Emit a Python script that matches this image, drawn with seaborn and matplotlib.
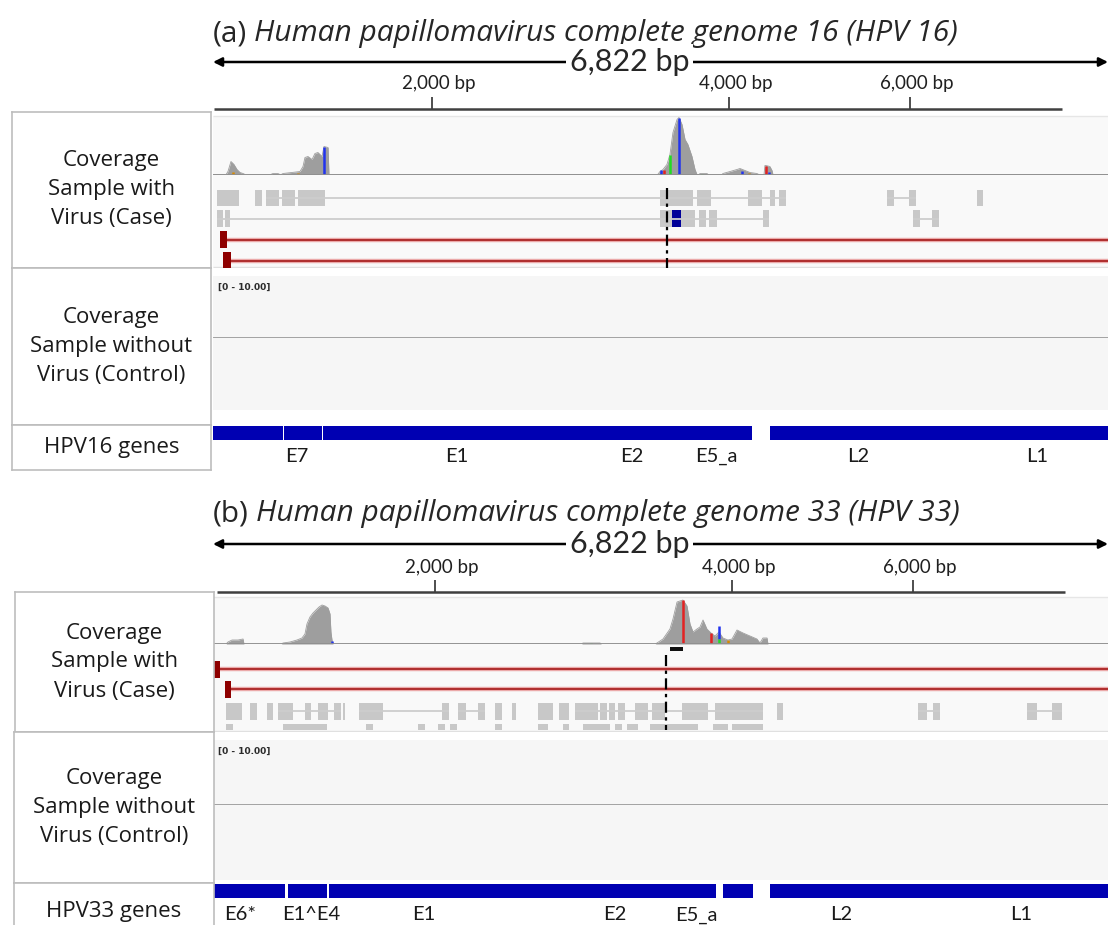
import numpy as np
import matplotlib
matplotlib.use("Agg")
import matplotlib.pyplot as plt
import seaborn as sns

sns.set_theme(style="white")
FONT = ['Lato', 'DejaVu Sans']
ALT = ['Open Sans', 'DejaVu Sans']
plt.rcParams['font.family'] = FONT

# ------------------------------------------------------------------ DATA
GENOME_LEN = 6822
length_label = "6,822 bp"
ruler_labels = ["2,000 bp", "4,000 bp", "6,000 bp"]
ruler_ticks_a = [1669, 3933, 5312]
ruler_ticks_b = [1692, 3956, 5335]
ruler_span_a = [8, 6471]
ruler_span_b = [30, 6494]

# coverage, panel a (position bp, depth)
cov_a_pos = [0, 100, 114, 137, 160, 183, 206, 229, 244, 440, 457, 495, 510,
             520, 534, 600, 663, 686, 701, 724, 755, 777, 800, 831, 846, 877, 884,
             3390, 3407, 3430, 3460, 3483, 3506, 3537, 3552, 3575, 3598, 3620, 3651,
             3674, 3689, 3705, 3712, 3765, 3775, 3880, 3887, 3941, 3994, 4017, 4055,
             4093, 4146, 4160, 4200, 4207, 4215, 4245, 4261, 4268, 6822]
cov_a_depth = [0, 0, 3, 13, 10, 5, 2, 1, 0, 0, 1, 1, 0,
               0, 1, 2, 3, 8, 17, 18, 15, 21, 22, 18, 28, 27, 0,
               0, 3, 5, 10, 20, 42, 55, 57, 50, 35, 30, 18,
               5, 0, 0, 1, 1, 0, 0, 1, 3, 5, 6, 4,
               2, 1, 0, 0, 9, 9, 8, 4, 0, 0]
# mismatch bars panel a: position, bottom, top, colour
mm_a_pos = [152, 648, 846, 3415, 3438, 3483, 3552, 3727, 4032, 4086, 4215, 4238]
mm_a_bot = [0, 0, 0, 0, 0, 0, 0, 0, 0, 0, 0, 0]
mm_a_top = [3, 2, 28, 5, 5, 20, 57, 1, 4, 2, 9, 3]
mm_a_col = ['orange', 'orange', 'blue', 'blue', 'red', 'green', 'blue', 'green',
            'blue', 'orange', 'red', 'blue']

# coverage, panel b
cov_b_pos = [0, 100, 114, 145, 191, 229, 236, 520, 534, 587, 640, 678, 701, 716,
             739, 762, 785, 808, 831, 854, 877, 892, 899, 907, 915,
             2810, 2820, 2950, 2960, 3370, 3384, 3430, 3483, 3506, 3537, 3559, 3582,
             3613, 3636, 3659, 3689, 3712, 3735, 3765, 3796, 3826, 3857, 3887,
             3925, 3956, 3994, 4040, 4093, 4146, 4169, 4192, 4223, 4230, 6822]
cov_b_depth = [0, 0, 2, 4, 4, 5, 0, 0, 1, 2, 4, 6, 10, 20,
               27, 31, 34, 37, 39, 38, 36, 30, 12, 4, 0,
               0, 1, 1, 0, 0, 1, 5, 15, 25, 42, 43, 44,
               38, 20, 12, 15, 17, 24, 15, 11, 8, 12, 6,
               4, 5, 14, 11, 8, 5, 1, 6, 6, 0, 0]
mm_b_pos = [907, 2880, 3582, 3796, 3857, 3857, 3925]
mm_b_bot = [0, 0, 0, 0, 5, 0, 0]
mm_b_top = [3, 1, 44, 11, 18, 5, 4]
mm_b_col = ['blue', 'green', 'red', 'red', 'blue', 'green', 'orange']

# reads: (lane, kind, blocks, line span)
reads_a = [
    (0, 'gray', [(30, 198)], None),
    (0, 'gray', [(320, 373)], None),
    (0, 'gray', [(404, 503), (526, 625), (648, 854), (3407, 3659), (3689, 3796),
                 (4078, 4184), (4245, 4284), (4314, 4367)], (404, 4367)),
    (0, 'gray', [(5137, 5191), (5305, 5358)], (5137, 5358)),
    (0, 'gray', [(5823, 5869)], None),
    (1, 'gray', [(30, 76), (91, 130), (3407, 3498), (3567, 3674), (3704, 3758),
                 (3781, 3841), (4192, 4238)], (30, 4238)),
    (1, 'blue', [(3498, 3567)], None),
    (1, 'gray', [(5335, 5389), (5480, 5534)], (5335, 5534)),
    (2, 'red', [(53, 110)], (110, GENOME_LEN)),
    (3, 'red', [(76, 134)], (134, GENOME_LEN)),
]
reads_b = [
    (0, 'black', [(3483, 3582)], None),
    (1, 'red', [(8, 50)], (50, GENOME_LEN)),
    (2, 'red', [(91, 137)], (137, GENOME_LEN)),
    (3, 'gray', [(99, 221)], None),
    (3, 'gray', [(282, 335)], None),
    (3, 'gray', [(412, 457)], None),
    (3, 'gray', [(495, 610), (701, 747), (800, 877), (922, 976)], (495, 976)),
    (3, 'gray', [(991, 1006)], None),
    (3, 'gray', [(1113, 1296), (1745, 1799)], (1113, 1799)),
    (3, 'gray', [(1867, 1928), (2020, 2073)], (1867, 2073)),
    (3, 'gray', [(2149, 2203)], None),
    (3, 'gray', [(2279, 2309)], None),
    (3, 'gray', [(2477, 2591)], None),
    (3, 'gray', [(2637, 2713)], None),
    (3, 'gray', [(2759, 2934), (2950, 3003), (3018, 3064), (3087, 3140), (3216, 3316),
                 (3346, 3445), (3575, 3773), (3826, 4192)], (2759, 4192)),
    (3, 'gray', [(4299, 4345)], None),
    (3, 'gray', [(5373, 5442), (5488, 5541)], (5373, 5541)),
    (3, 'gray', [(6204, 6280), (6395, 6471)], (6204, 6471)),
    (4, 'gray', [(99, 152), (534, 869), (1166, 1220), (1563, 1616), (1715, 1768),
                 (1806, 1860), (2149, 2203), (2477, 2553), (2668, 2713), (2820, 3026),
                 (3064, 3117), (3155, 3239), (3331, 3697), (3811, 3925), (3956, 4192)], None),
]
breakpoint_a = 3460
breakpoint_b = 3453

genes_a = [(0, 534), (541, 831), (838, 4108), (4245, GENOME_LEN)]
gene_names_a = ["E7", "E1", "E2", "E5_a", "L2", "L1"]
gene_label_pos_a = [640, 1860, 3194, 3834, 4916, 6280]
genes_b = [(0, 548), (568, 869), (884, 3834), (3887, 4116), (4245, GENOME_LEN)]
gene_names_b = ["E6*", "E1^E4", "E1", "E2", "E5_a", "L2", "L1"]
gene_label_pos_b = [206, 747, 1608, 3064, 3681, 4787, 6159]

ctrl_range = "[0 - 10.00]"
ctrl_cov_pos = [0, GENOME_LEN]
ctrl_cov_depth = [0, 0]

row_labels = ["Coverage\nSample with\nVirus (Case)",
              "Coverage\nSample without\nVirus (Control)"]

# ------------------------------------------------------------------ STYLE
W, H = 1108, 925
fig = plt.figure(figsize=(W / 100, H / 100), dpi=100)
fig.patch.set_facecolor('white')
GRAY_COV = '#9E9E9E'
READ_GRAY = '#C8C8C8'
GENE_BLUE = '#0000B2'
MM = {'red': '#E32222', 'blue': '#2233EE', 'green': '#22DD22', 'orange': '#D98B00'}
TX0, TX1 = 213, 1108


def add_ax(x0, y0, x1, y1):
    ax = fig.add_axes([x0 / W, 1 - y1 / H, (x1 - x0) / W, (y1 - y0) / H])
    ax.set_facecolor('none')
    ax.set_axis_off()
    return ax


def px_track(y0, y1):
    ax = add_ax(TX0, y0, TX1, y1)
    ax.set_xlim(0, GENOME_LEN)
    ax.set_ylim(y1, y0)
    return ax


def label_box(x0, y0, x1, y1, text, fs):
    ax = fig.add_axes([x0 / W, 1 - y1 / H, (x1 - x0) / W, (y1 - y0) / H])
    ax.set_xticks([]); ax.set_yticks([])
    ax.set_facecolor('white')
    for s in ax.spines.values():
        s.set_color('#BDBDBD'); s.set_linewidth(1.2)
    ax.text(0.5, 0.5, text, ha='center', va='center', fontsize=fs, family=ALT,
            linespacing=1.5, color='#1A1A1A', transform=ax.transAxes)
    return ax


def panel(L):
    # title
    full = add_ax(0, 0, W, H)
    full.set_xlim(0, W); full.set_ylim(H, 0)
    t1 = full.text(TX0, L['title_y'], L['tag'], fontsize=21.5, va='center', ha='left',
                   family=ALT)
    full.annotate(L['title'], xy=(1, 0.5), xycoords=t1, xytext=(5, 0),
                  textcoords='offset points', va='center', ha='left',
                  fontsize=21.5, style='italic', family=ALT)
    # arrow with genome length
    axa = add_ax(TX0, L['arrow_y'] - 14, TX1, L['arrow_y'] + 14)
    axa.set_xlim(0, GENOME_LEN); axa.set_ylim(0, 1)
    axa.annotate('', xy=(0, 0.5), xytext=(GENOME_LEN, 0.5),
                 arrowprops=dict(arrowstyle='<|-|>', color='black', lw=1.8,
                                 mutation_scale=13, shrinkA=0, shrinkB=0))
    axa.text(L['len_x'], 0.5, length_label, ha='center', va='center', fontsize=22,
             bbox=dict(boxstyle='square,pad=0.12', fc='white', ec='none'))
    # ruler
    axr = px_track(L['ruler_y'] - 40, L['ruler_y'] + 3)
    axr.hlines(L['ruler_y'], *L['ruler_span'], color='#404040', lw=1.8)
    axr.vlines(L['ruler_ticks'], L['ruler_y'] - 12, L['ruler_y'], color='#404040', lw=1.3)
    for tx, lab in zip(L['ruler_ticks'], ruler_labels):
        axr.annotate(lab, xy=(tx, L['ruler_y'] - 25), xytext=(5, 0),
                     textcoords='offset points', ha='center', va='center',
                     fontsize=13.5, color='#202020')
    # case track background
    bg = px_track(L['case'][0], L['case'][1])
    bg.axhspan(L['case'][1], L['case_bg_top'], color='#F9F9F9', lw=0)
    bg.hlines(L['case_bg_top'], 0, GENOME_LEN, color='#E6E6E6', lw=1)
    # coverage
    axc = add_ax(TX0, L['cov'][0], TX1, L['cov'][1])
    axc.set_xlim(0, GENOME_LEN); axc.set_ylim(0, L['cov_max'])
    axc.fill_between(L['cov_pos'], L['cov_depth'], color=GRAY_COV, lw=0)
    sns.lineplot(x=L['cov_pos'], y=L['cov_depth'], ax=axc, color=GRAY_COV,
                 lw=0.6, estimator=None)
    axc.set_axis_off()
    for p, b, t, c in zip(*L['mm']):
        axc.vlines(p, b, t, color=MM[c], lw=1.8)
    axc.axhline(0, color='#8F8F8F', lw=2)
    # reads
    axr2 = px_track(L['reads'][0], L['reads'][1])
    lanes = L['lanes']
    for lane, kind, blocks, line in L['reads_data']:
        yc, hh = lanes[lane]
        if kind == 'red':
            axr2.hlines(yc, *line, color='#EBA9A9', lw=3.2)
            axr2.hlines(yc, *line, color='#A51818', lw=1.2)
            fc = '#8E0000'
        elif kind == 'blue':
            fc = '#000099'
        elif kind == 'black':
            fc = '#111111'
        else:
            if line is not None:
                axr2.hlines(yc, *line, color='#CDCDCD', lw=1.3)
            fc = READ_GRAY
        axr2.broken_barh([(s, e - s) for s, e in blocks], (yc - hh / 2, hh),
                         facecolor=fc, edgecolor='none')
    axr2.vlines(L['bp'], L['bp_y'][0], L['bp_y'][1], color='black', lw=1.6,
                linestyle=(0, (5, 2, 1.5, 2)))
    bg.hlines(L['case'][1] - 1, 0, GENOME_LEN, color='#E0E0E0', lw=1)
    # control track
    ctl = px_track(L['ctrl'][0], L['ctrl'][1])
    ctl.axhspan(L['ctrl'][0], L['ctrl'][1], color='#F6F6F6', lw=0)
    ctl.text(40, L['ctrl'][0] + 11, ctrl_range, fontsize=6.5, color='#2A2A2A',
             va='center', ha='left', family=['DejaVu Sans'], fontweight='bold')
    axcc = add_ax(TX0, L['ctrl'][0] + 5, TX1, L['ctrl_base'])
    axcc.set_xlim(0, GENOME_LEN); axcc.set_ylim(0, 10)
    axcc.fill_between(ctrl_cov_pos, ctrl_cov_depth, color=GRAY_COV, lw=0)
    axcc.axhline(0, color='#9A9A9A', lw=2)
    # genes
    axg = px_track(L['genes'][0], L['genes'][1])
    gy0, gh = L['gene_bar']
    axg.broken_barh([(s, e - s) for s, e in L['genes_data']], (gy0, gh),
                    facecolor=GENE_BLUE, edgecolor='none')
    for nm, gx in zip(L['gene_names'], L['gene_pos']):
        axg.text(gx, L['gene_label_y'], nm, ha='center', va='center',
                 fontsize=14.5, color='#1A1A1A', clip_on=True)
    # label boxes
    bx0, bx1 = L['box_x']
    rows = L['box_rows']
    label_box(bx0, rows[0], bx1, rows[1], row_labels[0], 16)
    label_box(L['box2_x0'], rows[1], bx1, rows[2], row_labels[1], 16)
    label_box(L['box2_x0'], rows[2], bx1, rows[3], L['genes_label'], 16)


panel(dict(
    tag='(a)', title='Human papillomavirus complete genome 16 (HPV 16)',
    title_y=34, arrow_y=62, len_x=3178,
    ruler_y=109, ruler_span=ruler_span_a, ruler_ticks=ruler_ticks_a,
    case=(112, 268), case_bg_top=116,
    cov=(113, 174.5), cov_max=61.5, cov_pos=cov_a_pos, cov_depth=cov_a_depth,
    mm=(mm_a_pos, mm_a_bot, mm_a_top, mm_a_col),
    reads=(176, 268), lanes={0: (198, 17), 1: (219, 17), 2: (240, 17), 3: (261, 17)},
    reads_data=reads_a, bp=breakpoint_a, bp_y=(188, 268),
    ctrl=(276, 410), ctrl_base=338,
    genes=(420, 472), gene_bar=(426, 14), genes_data=genes_a,
    gene_names=gene_names_a, gene_pos=gene_label_pos_a, gene_label_y=456,
    box_x=(12, 211), box2_x0=12, box_rows=(112, 268, 425, 470),
    genes_label='HPV16 genes'))

panel(dict(
    tag='(b)', title='Human papillomavirus complete genome 33 (HPV 33)',
    title_y=514, arrow_y=544, len_x=3178,
    ruler_y=592, ruler_span=ruler_span_b, ruler_ticks=ruler_ticks_b,
    case=(594, 732), case_bg_top=597,
    cov=(596, 644), cov_max=48, cov_pos=cov_b_pos, cov_depth=cov_b_depth,
    mm=(mm_b_pos, mm_b_bot, mm_b_top, mm_b_col),
    reads=(645, 730), lanes={0: (649, 4), 1: (669, 17), 2: (689, 17), 3: (711, 17), 4: (727, 7)},
    reads_data=reads_b, bp=breakpoint_b, bp_y=(655, 731),
    ctrl=(740, 880), ctrl_base=805,
    genes=(880, 925), gene_bar=(884, 14), genes_data=genes_b,
    gene_names=gene_names_b, gene_pos=gene_label_pos_b, gene_label_y=915,
    box_x=(15, 214), box2_x0=14, box_rows=(592, 732, 883, 940),
    genes_label='HPV33 genes'))

fig.savefig('out.png', dpi=100, facecolor='white')
